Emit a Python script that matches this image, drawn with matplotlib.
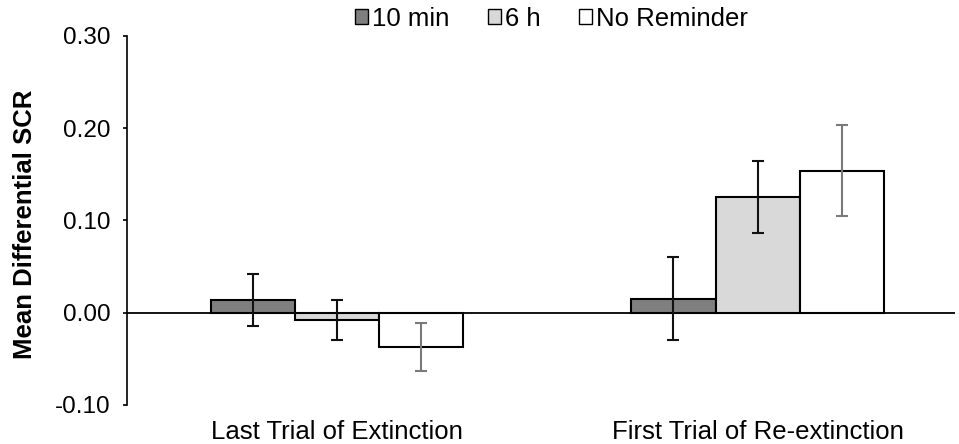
import numpy as np
import matplotlib.pyplot as plt
from matplotlib.patches import Patch

plt.rcParams['font.family'] = ['Liberation Sans', 'DejaVu Sans']

categories = ['Last Trial of Extinction', 'First Trial of Re-extinction']
series = ['10 min', '6 h', 'No Reminder']
means = {
    '10 min': [0.014, 0.015],
    '6 h': [-0.008, 0.125],
    'No Reminder': [-0.037, 0.154],
}
errors = {
    '10 min': [0.028, 0.045],
    '6 h': [0.022, 0.039],
    'No Reminder': [0.026, 0.049],
}
fills = ['#7f7f7f', '#d9d9d9', '#ffffff']
err_colors = ['#111111', '#111111', '#7a7a7a']

fig = plt.figure(figsize=(9.59, 4.44), dpi=100)
ax = fig.add_axes([0.1324, 0.088, 0.8636, 0.831])

x = np.arange(len(categories))
w = 0.2
for i, s in enumerate(series):
    pos = x + (i - 1) * w
    ax.bar(pos, means[s], width=w, color=fills[i], edgecolor='black', linewidth=1.5, zorder=2)
    ax.errorbar(pos, means[s], yerr=errors[s], fmt='none', ecolor=err_colors[i],
                elinewidth=1.5, capsize=4.3, capthick=1.5, zorder=3)

ax.axhline(0, color='black', linewidth=1.3, zorder=1)

ax.set_xlim(-0.5, 1.47)
ax.set_ylim(-0.10, 0.30)
ax.set_yticks([-0.10, 0.0, 0.10, 0.20, 0.30])
ax.set_yticklabels(['-0.10', '0.00', '0.10', '0.20', '0.30'], fontsize=17.5)
ax.set_xticks(x)
ax.set_xticklabels(categories, fontsize=18.5)
ax.tick_params(axis='x', length=0, pad=11)
ax.tick_params(axis='y', direction='out', length=3, width=1.2, pad=9)
for sp in ['top', 'right', 'bottom']:
    ax.spines[sp].set_visible(False)
ax.spines['left'].set_linewidth(1.2)
ax.set_ylabel('Mean Differential SCR', fontsize=18.5, fontweight='bold')
ax.yaxis.set_label_coords(-0.109, 0.49)

handles = [Patch(facecolor=fills[i], edgecolor='black', linewidth=1.0) for i in range(3)]
fig.legend(handles, series, loc='center', bbox_to_anchor=(0.575, 0.958), ncol=3,
           frameon=False, fontsize=18.5, handlelength=0.5, handleheight=0.5,
           handletextpad=0.15, columnspacing=1.5, borderpad=0)

fig.savefig('out.png', dpi=100)
